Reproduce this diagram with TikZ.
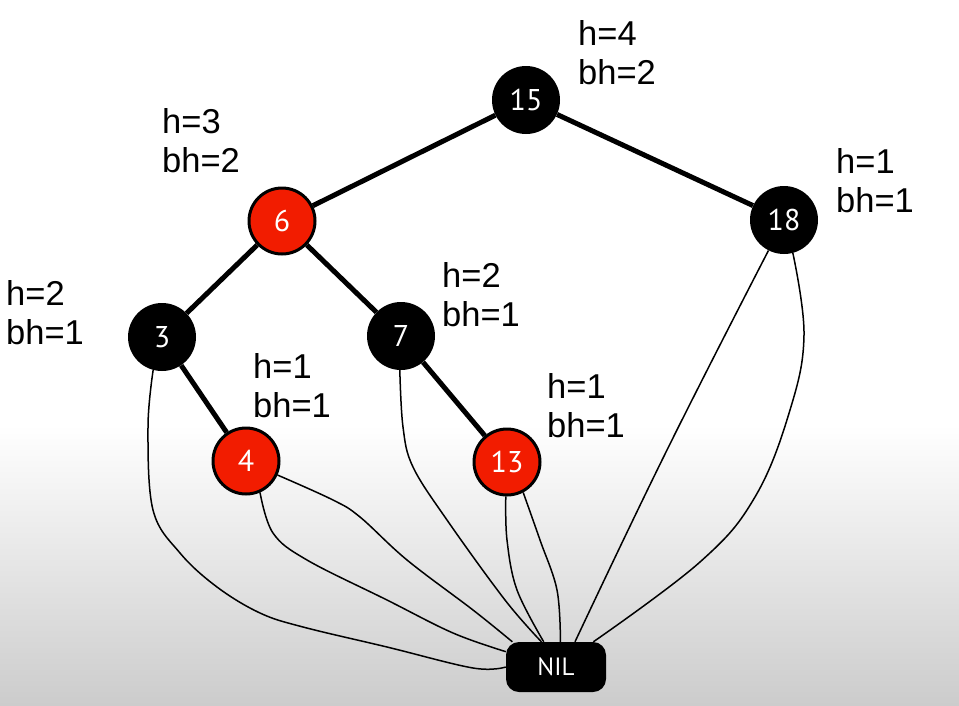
\documentclass[tikz,border=0pt]{standalone}
\usepackage{fontspec}
\setmainfont{Liberation Sans}
\newfontfamily\numfont{PT Sans}
\definecolor{nodered}{RGB}{242,28,0}
\begin{document}
\begin{tikzpicture}[x=1pt,y=-1pt,
  blk/.style={circle,fill=black,minimum size=68pt,inner sep=0pt,text=white,font=\numfont\fontsize{30}{32}\selectfont},
  rd/.style={circle,fill=nodered,draw=black,line width=3pt,minimum size=66pt,inner sep=0pt,text=white,font=\numfont\fontsize{30}{32}\selectfont},
  nilbox/.style={rectangle,rounded corners=13pt,fill=black,minimum width=100pt,minimum height=50pt,inner sep=0pt,text=white,font=\numfont\fontsize{25}{27}\selectfont},
  treeedge/.style={line width=5pt},
  nilline/.style={line width=1.5pt},
  lbl/.style={anchor=north west,inner sep=0pt,align=left,font=\fontsize{34.5}{39}\selectfont}]
\useasboundingbox (0,0) rectangle (959,705);
\fill[white] (0,0) rectangle (959,705);
\shade[top color=white,bottom color=black!20] (0,425) rectangle (959,705);

\node[blk] (n15) at (526,100) {15};
\node[rd]  (n6)  at (282,221) {6};
\node[blk] (n18) at (784,220) {18};
\node[blk] (n3)  at (162,337) {3};
\node[blk] (n7)  at (401,336) {7};
\node[rd]  (n4)  at (246,461) {4};
\node[rd]  (n13) at (507,462) {13};
\node[nilbox] (nil) at (556,667) {NIL};

\draw[treeedge] (n15) -- (n6);
\draw[treeedge] (n15) -- (n18);
\draw[treeedge] (n6) -- (n3);
\draw[treeedge] (n6) -- (n7);
\draw[treeedge] (n3) -- (n4);
\draw[treeedge] (n7) -- (n13);

\draw[nilline] plot[smooth,tension=0.6] coordinates {(n3.-105) (148,427) (153,510) (180,553) (217,587) (260,613) (303,627) (387,647) (473,668) (nil.west)};
\draw[nilline] plot[smooth,tension=0.6] coordinates {(n4.-66) (273,533) (307,560) (387,600) (453,633) (nil.163)};
\draw[nilline] plot[smooth,tension=0.6] coordinates {(n4.-24) (333,500) (360,517) (407,560) (473,610) (nil.150)};
\draw[nilline] plot[smooth,tension=0.6] coordinates {(n7.-92) (403,427) (413,467) (447,520) (505,600) (nil.120)};
\draw[nilline] plot[smooth,tension=0.6] coordinates {(n13.-92) (507,540) (517,590) (nil.116)};
\draw[nilline] plot[smooth,tension=0.6] coordinates {(n13.-62) (540,540) (557,590) (nil.80)};
\draw[nilline] plot[smooth,tension=0.7] coordinates {(n18.-117) (667,450) (nil.53)};
\draw[nilline] plot[smooth,tension=0.65] coordinates {(n18.-75) (804,335) (790,410) (755,497) (700,562) (nil.34)};

\node[lbl] (l15) at (578,20) {h=4\\bh=2};
\node[lbl] (l6) at (162,108) {h=3\\bh=2};
\node[lbl] (l18) at (836,148) {h=1\\bh=1};
\node[lbl] (l3) at (6,280) {h=2\\bh=1};
\node[lbl] (l7) at (442,262) {h=2\\bh=1};
\node[lbl] (l4) at (253,353) {h=1\\bh=1};
\node[lbl] (l13) at (547,373) {h=1\\bh=1};
\end{tikzpicture}
\end{document}
